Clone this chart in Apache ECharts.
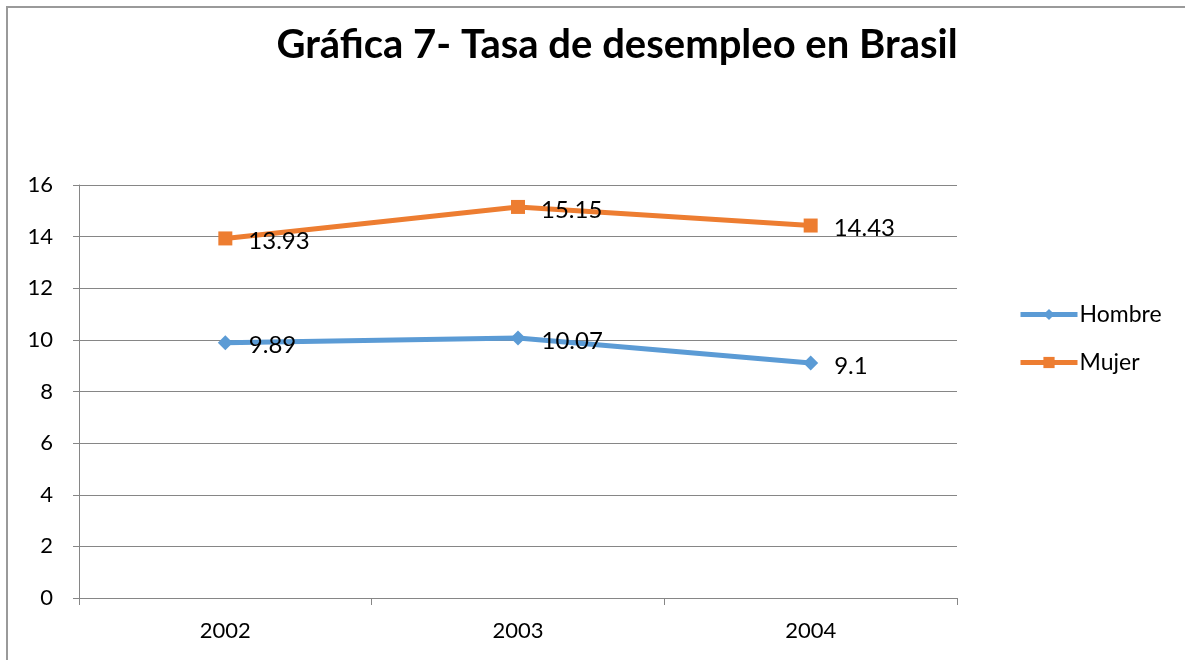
<!DOCTYPE html>
<html>
<head>
    <meta charset="utf-8">
    <title>Tasa de desempleo en Brasil</title>
    <script src="https://cdn.jsdelivr.net/npm/echarts@6/dist/echarts.min.js"></script>
    <style>
        body { margin: 0; background: #fff; }
    </style>
</head>
<body>
    <div id="chart" style="width:1185px; height:660px"></div>

    <script>
        // datos
        let years = ['2002', '2003', '2004'];
        let hombre = [9.89, 10.07, 9.1];
        let mujer = [13.93, 15.15, 14.43];

        let font = 'Lato, "Open Sans", sans-serif';
        let chart = echarts.init(document.getElementById('chart'));

        let option = {
            animation: false,
            title: {
                text: 'Gráfica 7- Tasa de desempleo en Brasil',
                left: 612,
                top: 20,
                textAlign: 'center',
                textStyle: { fontFamily: font, fontSize: 40, fontWeight: 'bold', color: '#000' }
            },
            graphic: [{
                type: 'rect',
                shape: { x: 7, y: 7, width: 1400, height: 900 },
                style: { fill: 'none', stroke: '#9a9a9a', lineWidth: 2 },
                silent: true
            }],
            legend: {
                orient: 'vertical',
                left: 1013,
                top: 298,
                itemWidth: 57,
                itemHeight: 14,
                itemGap: 25,
                lineStyle: { width: 5 },
                textStyle: { fontFamily: font, fontSize: 23, color: '#000', padding: [0, 0, 0, -3] },
                data: ['Hombre', 'Mujer']
            },
            grid: { left: 79, right: 228, top: 185, bottom: 62 },
            xAxis: {
                type: 'category',
                data: years,
                boundaryGap: true,
                axisLine: { lineStyle: { color: '#868686', width: 1 } },
                axisTick: { show: true, length: 7, lineStyle: { color: '#868686' } },
                axisLabel: { color: '#000', fontFamily: font, fontSize: 22, margin: 22 }
            },
            yAxis: {
                type: 'value',
                min: 0,
                max: 16,
                interval: 2,
                axisLine: { show: true, lineStyle: { color: '#868686', width: 1 } },
                axisTick: { show: true, length: 6, lineStyle: { color: '#868686' } },
                axisLabel: { color: '#000', fontFamily: font, fontSize: 22, margin: 26 },
                splitLine: { lineStyle: { color: '#868686', width: 1 } }
            },
            series: [
                {
                    name: 'Hombre',
                    type: 'line',
                    data: hombre,
                    symbol: 'diamond',
                    symbolSize: 15,
                    color: '#5B9BD5',
                    lineStyle: { width: 5, color: '#5B9BD5' },
                    label: {
                        show: true, position: 'right', distance: 16, offset: [0, 3],
                        color: '#000', fontFamily: font, fontSize: 24
                    }
                },
                {
                    name: 'Mujer',
                    type: 'line',
                    data: mujer,
                    symbol: 'rect',
                    symbolSize: 14,
                    color: '#ED7D31',
                    lineStyle: { width: 5, color: '#ED7D31' },
                    label: {
                        show: true, position: 'right', distance: 16, offset: [0, 3],
                        color: '#000', fontFamily: font, fontSize: 24
                    }
                }
            ]
        };

        chart.setOption(option);
    </script>
</body>
</html>
